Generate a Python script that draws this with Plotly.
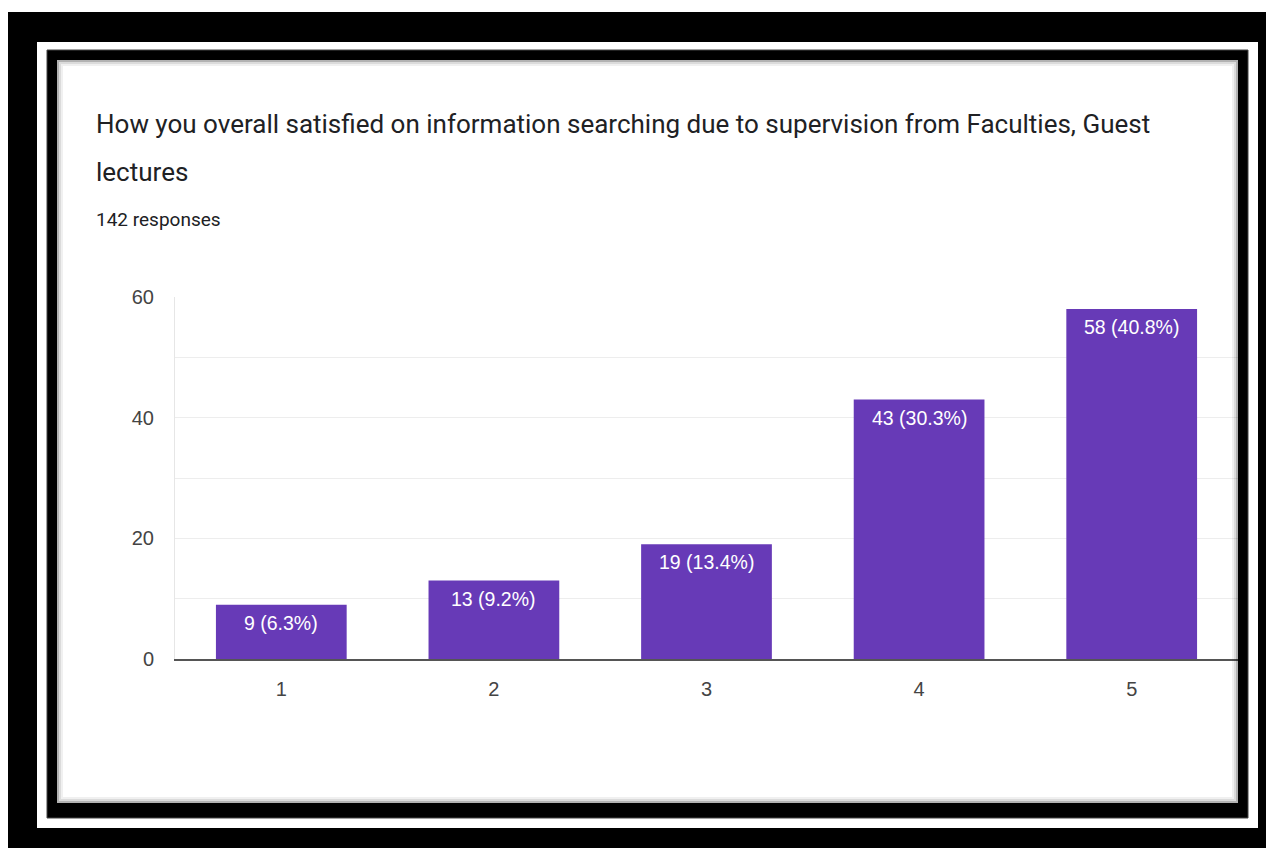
import plotly.graph_objects as go

# ---- data ----
categories = ["1", "2", "3", "4", "5"]
counts = [9, 13, 19, 43, 58]
percents = [6.3, 9.2, 13.4, 30.3, 40.8]
title_line1 = "How you overall satisfied on information searching due to supervision from Faculties, Guest"
title_line2 = "lectures"
subtitle = "142 responses"
y_ticks = [0, 20, 40, 60]

labels = [f"{c} ({p}%)" for c, p in zip(counts, percents)]

# ---- layout geometry (page pixels; page body has an 8px margin) ----
OFF = 8
FW, FH = 1274 - OFF, 848 - OFF
L, R, T, B = 175 - OFF, 1238 - OFF, 297 - OFF, 659 - OFF
W, H = R - L, B - T


def fx(px):
    return (px - OFF - L) / W


def fy(py):
    return (B - (py - OFF)) / H


fig = go.Figure()
fig.add_trace(go.Bar(
    x=categories,
    y=counts,
    marker=dict(color="#673ab7", line=dict(width=0)),
    hoverinfo="skip",
))

shapes = []


def rect(x0, y0, x1, y1, fill, line_color=None, line_width=0, layer="below"):
    shapes.append(dict(type="rect", xref="paper", yref="paper",
                       x0=fx(x0), x1=fx(x1), y0=fy(y1), y1=fy(y0),
                       fillcolor=fill, layer=layer,
                       line=dict(width=line_width, color=line_color or fill)))


rect(8, 12, 1290, 870, "black")
rect(37, 42, 1258, 828, "white")
rect(47, 50, 1248, 818, "black", line_color="#444", line_width=1)
rect(57, 60, 1238, 803, "white")
# inner shadow
for inset, alpha in [(1, 0.30), (3, 0.14), (5, 0.06)]:
    shapes.append(dict(type="rect", xref="paper", yref="paper",
                       x0=fx(57 + inset), x1=fx(1238 - inset),
                       y0=fy(803 - inset), y1=fy(60 + inset),
                       fillcolor="rgba(0,0,0,0)", layer="above",
                       line=dict(width=2, color=f"rgba(0,0,0,{alpha})")))

annotations = [
    dict(xref="paper", yref="paper", x=fx(94), y=fy(124), xanchor="left", yanchor="middle",
         text=title_line1, showarrow=False,
         font=dict(family="Roboto, Arial, sans-serif", size=26, color="#202124")),
    dict(xref="paper", yref="paper", x=fx(94), y=fy(172), xanchor="left", yanchor="middle",
         text=title_line2, showarrow=False,
         font=dict(family="Roboto, Arial, sans-serif", size=26, color="#202124")),
    dict(xref="paper", yref="paper", x=fx(94), y=fy(220), xanchor="left", yanchor="middle",
         text=subtitle, showarrow=False,
         font=dict(family="Roboto, Arial, sans-serif", size=19, color="#202124")),
]
# value labels inside the top of each bar (x given as category index)
for i, (val, lab) in enumerate(zip(counts, labels)):
    annotations.append(dict(
        x=i, y=val, xref="x", yref="y", xanchor="center", yanchor="top",
        yshift=-5, text=lab, showarrow=False,
        font=dict(family="Liberation Sans, Arial, sans-serif", size=19.5, color="white"),
    ))

fig.update_layout(
    width=FW, height=FH,
    margin=dict(l=L, r=FW - R, t=T, b=FH - B, pad=0),
    paper_bgcolor="white",
    plot_bgcolor="rgba(0,0,0,0)",
    showlegend=False,
    bargap=0.385,
    shapes=shapes,
    annotations=annotations,
    xaxis=dict(
        type="category",
        range=[-0.5, 4.5],
        showgrid=False,
        showline=True, linecolor="#555555", linewidth=2,
        ticks="", ticklabelstandoff=11,
        tickfont=dict(family="Liberation Sans, Arial, sans-serif", size=20, color="#444444"),
        zeroline=False,
        fixedrange=True,
    ),
    yaxis=dict(
        range=[0, 60],
        tickvals=y_ticks,
        showgrid=True, gridcolor="#ededed", gridwidth=1,
        minor=dict(dtick=10, showgrid=True, gridcolor="#ededed", gridwidth=1),
        showline=True, linecolor="#e6e6e6", linewidth=1,
        ticks="", ticklabelstandoff=16,
        tickfont=dict(family="Liberation Sans, Arial, sans-serif", size=20, color="#444444"),
        zeroline=False,
        fixedrange=True,
    ),
)

fig.write_html("out.html")
